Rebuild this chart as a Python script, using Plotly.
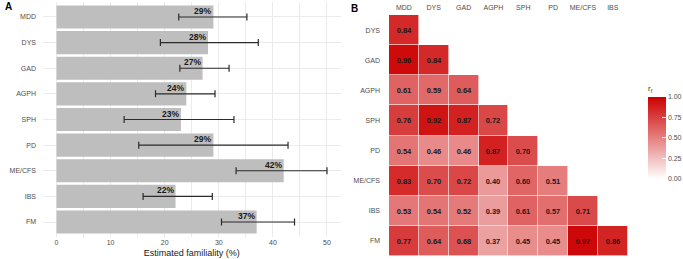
import plotly.graph_objects as go

# ---- Panel A data ----
disorders = ["MDD", "DYS", "GAD", "AGPH", "SPH", "PD", "ME/CFS", "IBS", "FM"]
familiality = [29, 28, 27, 24, 23, 29, 42, 22, 37]
ci_low = [22.6, 19.2, 22.8, 18.3, 12.5, 15.2, 33.2, 16.0, 30.5]
ci_high = [35.2, 37.3, 31.9, 29.3, 32.8, 42.8, 50.0, 28.8, 44.0]
x_ticks = [0, 10, 20, 30, 40, 50]

# ---- Panel B data ----
cols = ["MDD", "DYS", "GAD", "AGPH", "SPH", "PD", "ME/CFS", "IBS"]
rows = ["DYS", "GAD", "AGPH", "SPH", "PD", "ME/CFS", "IBS", "FM"]
r_dys = [0.84]
r_gad = [0.96, 0.84]
r_agph = [0.61, 0.59, 0.64]
r_sph = [0.76, 0.92, 0.87, 0.72]
r_pd = [0.54, 0.46, 0.46, 0.87, 0.70]
r_mecfs = [0.83, 0.70, 0.72, 0.40, 0.60, 0.51]
r_ibs = [0.53, 0.54, 0.52, 0.39, 0.61, 0.57, 0.71]
r_fm = [0.77, 0.64, 0.68, 0.37, 0.45, 0.45, 0.97, 0.86]
cbar_ticks = [0, 0.25, 0.5, 0.75, 1.0]

W, H = 683, 259
def px_x(p):
    return p / W
def px_y(p):
    return 1 - p / H

fig = go.Figure()

err_plus = [h - v for h, v in zip(ci_high, familiality)]
err_minus = [v - l for v, l in zip(familiality, ci_low)]

fig.add_trace(go.Bar(
    x=familiality, y=disorders, orientation="h",
    marker=dict(color="#BEBEBE", line=dict(width=0)),
    width=0.9,
    error_x=dict(type="data", array=err_plus, arrayminus=err_minus,
                 color="#2b2b2b", thickness=1.2, width=3.5),
    xaxis="x", yaxis="y", showlegend=False, hoverinfo="skip",
))

for d, v in zip(disorders, familiality):
    fig.add_annotation(x=v, y=d, xref="x", yref="y", text=f"<b>{v}%</b>",
                       showarrow=False, xanchor="right", yanchor="middle",
                       yshift=6, font=dict(size=8.5, color="#1a1a1a",
                                           family="Liberation Sans, Arial"))

# heatmap matrix
tri = [r_dys, r_gad, r_agph, r_sph, r_pd, r_mecfs, r_ibs, r_fm]
z = [row + [None] * (len(cols) - len(row)) for row in tri]

fig.add_trace(go.Heatmap(
    z=z, x=cols, y=rows, xaxis="x2", yaxis="y2",
    zmin=0, zmax=1,
    colorscale=[[0, "#FFFFFF"], [1, "#CC0000"]],
    xgap=0.6, ygap=0.6,
    texttemplate="<b>%{z:.2f}</b>",
    textfont=dict(size=7.5, color="#1a1a1a", family="Liberation Sans, Arial"),
    hoverongaps=False,
    colorbar=dict(
        title=dict(text="r<sub>f</sub>", side="top",
                   font=dict(size=8, color="#333333")),
        x=px_x(648), xanchor="left", y=px_y(82), yanchor="top",
        len=97, lenmode="pixels", thickness=18, thicknessmode="pixels",
        outlinewidth=0, tickvals=cbar_ticks, tickformat=".2f",
        ticks="inside", ticklen=4, tickcolor="white",
        tickfont=dict(size=7, color="#4d4d4d"), xpad=0, ypad=0,
    ),
))

grid = "#EBEBEB"
fig.update_layout(
    width=W, height=H,
    margin=dict(l=0, r=0, t=0, b=0, autoexpand=False),
    paper_bgcolor="white", plot_bgcolor="white",
    font=dict(family="Liberation Sans, Arial", color="#4d4d4d"),
    xaxis=dict(
        domain=[px_x(43), px_x(340.5)], range=[-2.5, 52.5],
        tickvals=x_ticks, showgrid=True, gridcolor=grid, gridwidth=1,
        minor=dict(dtick=5, showgrid=True, gridcolor=grid, gridwidth=0.5),
        zeroline=False, showline=False, ticks="",
        tickfont=dict(size=7, color="#4d4d4d"),
        title=dict(text="Estimated familiality (%)", standoff=4,
                   font=dict(size=9, color="#1a1a1a")),
        anchor="y",
    ),
    yaxis=dict(
        domain=[px_y(237.4), px_y(1.6)], range=[8.6, -0.6],
        type="category", categoryorder="array", categoryarray=disorders,
        showgrid=True, gridcolor=grid, gridwidth=1,
        zeroline=False, showline=False, ticks="",
        ticklabelstandoff=6,
        tickfont=dict(size=7, color="#4d4d4d"), anchor="x",
    ),
    xaxis2=dict(
        domain=[px_x(389), px_x(627.7)], range=[-0.5, 7.5],
        type="category", categoryorder="array", categoryarray=cols,
        side="top", showgrid=False, zeroline=False, showline=False,
        ticks="", ticklabelstandoff=3,
        tickfont=dict(size=7, color="#4d4d4d"), anchor="y2",
    ),
    yaxis2=dict(
        domain=[px_y(256), px_y(15)], range=[7.5, -0.5],
        type="category", categoryorder="array", categoryarray=rows,
        showgrid=False, zeroline=False, showline=False,
        ticks="", ticklabelstandoff=8,
        tickfont=dict(size=7, color="#4d4d4d"), anchor="x2",
    ),
)

fig.add_annotation(x=px_x(3), y=px_y(7), xref="paper", yref="paper",
                   text="<b>A</b>", showarrow=False, xanchor="left",
                   yanchor="middle", font=dict(size=10, color="black"))
fig.add_annotation(x=px_x(349), y=px_y(8), xref="paper", yref="paper",
                   text="<b>B</b>", showarrow=False, xanchor="left",
                   yanchor="middle", font=dict(size=10, color="black"))

fig.write_html("out.html", config={"displayModeBar": False},
               post_script="document.body.style.margin='0';document.body.style.overflow='hidden';")
